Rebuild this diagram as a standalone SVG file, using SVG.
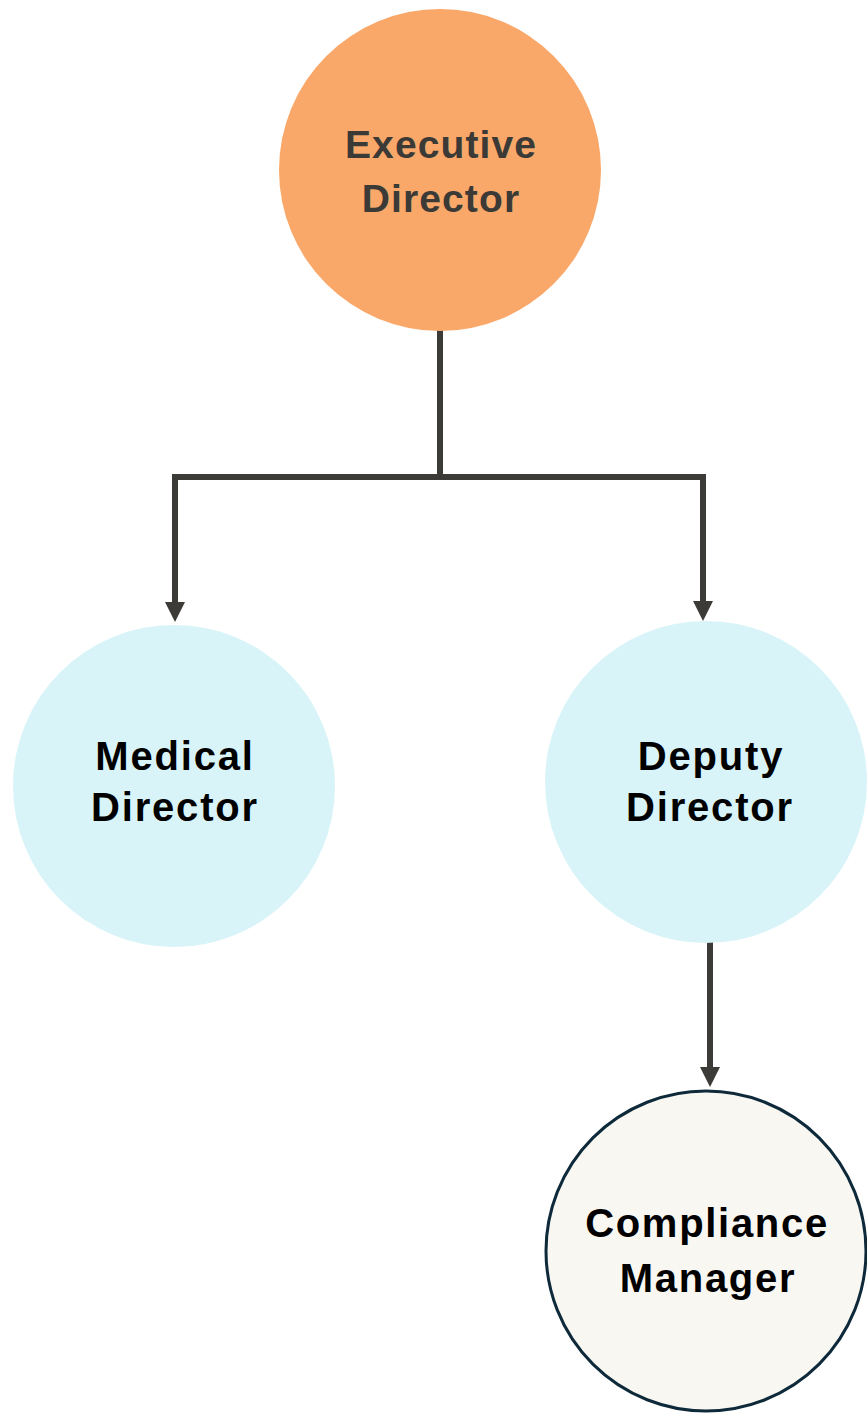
<svg xmlns="http://www.w3.org/2000/svg" width="867" height="1416" viewBox="0 0 867 1416">
  <style>
    .conn { fill: none; stroke: #3d3b37; stroke-width: 6; stroke-linejoin: miter; }
    .lbl { font-family: "Liberation Sans", Arial, sans-serif; font-weight: bold; text-anchor: middle; }
    .exec-lbl { fill: #3b3a36; font-size: 39px; letter-spacing: 1.1px; }
    .blue-lbl { fill: #000000; font-size: 40px; letter-spacing: 1.8px; }
    .cm-lbl { fill: #000000; font-size: 40px; letter-spacing: 1.7px; }
  </style>
  <defs>
    <marker id="arrow" markerUnits="userSpaceOnUse" markerWidth="20" markerHeight="20" refX="10" refY="10" orient="auto">
      <path d="M0,0 L20,10 L0,20 Z" fill="#3d3b37"/>
    </marker>
  </defs>
  <rect width="867" height="1416" fill="#ffffff"/>

  <g id="connectors">
    <path class="conn" d="M440,330 V477 H175 V612" marker-end="url(#arrow)"/>
    <path class="conn" d="M437,477 H703 V611" marker-end="url(#arrow)"/>
    <path class="conn" d="M710,940 V1077" marker-end="url(#arrow)"/>
  </g>

  <g id="executive-director">
    <circle cx="440" cy="170" r="161" fill="#f9a869"/>
    <text class="lbl exec-lbl" x="441" y="158">Executive</text>
    <text class="lbl exec-lbl" x="441" y="212">Director</text>
  </g>

  <g id="medical-director">
    <circle cx="174" cy="786" r="161" fill="#d9f4f9"/>
    <text class="lbl blue-lbl" x="175" y="770">Medical</text>
    <text class="lbl blue-lbl" x="175" y="821">Director</text>
  </g>

  <g id="deputy-director">
    <circle cx="706" cy="782" r="161" fill="#d9f4f9"/>
    <text class="lbl blue-lbl" x="711" y="770">Deputy</text>
    <text class="lbl blue-lbl" x="710" y="821">Director</text>
  </g>

  <g id="compliance-manager">
    <circle cx="706" cy="1251" r="160" fill="#f8f7f2" stroke="#0e2a3a" stroke-width="3"/>
    <text class="lbl cm-lbl" x="707" y="1237">Compliance</text>
    <text class="lbl cm-lbl" x="708" y="1292">Manager</text>
  </g>
</svg>
